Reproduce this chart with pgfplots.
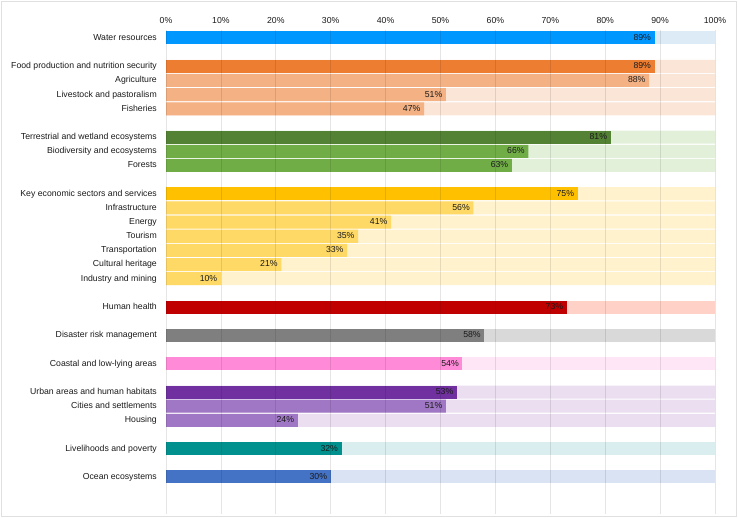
\documentclass[border=0pt]{standalone}
\usepackage{pgfplots}
\pgfplotsset{compat=1.18}
\usepackage{fontspec}
\setmainfont{Liberation Sans}
\definecolor{cWat}{HTML}{0097FF}\definecolor{bWat}{HTML}{DDEBF7}
\definecolor{cFood}{HTML}{ED7D31}\definecolor{sFood}{HTML}{F4B183}\definecolor{bFood}{HTML}{FBE5D6}
\definecolor{cTer}{HTML}{548235}\definecolor{sTer}{HTML}{70AD47}\definecolor{bTer}{HTML}{E2F0D9}
\definecolor{cKey}{HTML}{FFC000}\definecolor{sKey}{HTML}{FFD966}\definecolor{bKey}{HTML}{FFF2CC}
\definecolor{cHum}{HTML}{C00000}\definecolor{bHum}{HTML}{FFD1C7}
\definecolor{cDis}{HTML}{7F7F7F}\definecolor{bDis}{HTML}{D9D9D9}
\definecolor{cCoa}{HTML}{FF8AD8}\definecolor{bCoa}{HTML}{FFE6F7}
\definecolor{cUrb}{HTML}{7030A0}\definecolor{sUrb}{HTML}{A077C4}\definecolor{bUrb}{HTML}{EADEF0}
\definecolor{cLiv}{HTML}{00918F}\definecolor{bLiv}{HTML}{DAEEF0}
\definecolor{cOce}{HTML}{4472C4}\definecolor{bOce}{HTML}{DAE3F3}
\definecolor{txt}{HTML}{1A1A1A}
\begin{document}
\begin{tikzpicture}[x=1bp,y=1bp]
\path[use as bounding box] (0,0) rectangle (738,518);
\draw[black!12, line width=1bp] (1.5,1.5) rectangle (736.5,516.5);
\begin{axis}[
  at={(166bp,487.8bp)}, anchor=north west,
  scale only axis, width=549bp, height=483.6bp,
  xbar, bar width=0.92, bar shift=0pt,
  xmin=0, xmax=100, ymin=-0.55, ymax=33.6, y dir=reverse,
  axis line style={draw=none}, major tick length=0pt,
  xtick={0,10,...,100},
  xticklabels={0\%,10\%,20\%,30\%,40\%,50\%,60\%,70\%,80\%,90\%,100\%},
  xticklabel pos=upper,
  xticklabel style={inner sep=0pt, yshift=6.5bp},
  xmajorgrids, major grid style={black, opacity=0.1, line width=0.8bp},
  ytick={0,2,3,4,5,7,8,9,11,12,13,14,15,16,17,19,21,23,25,26,27,29,31},
  yticklabels={Water resources,Food production and nutrition security,Agriculture~,Livestock and pastoralism,Fisheries,Terrestrial and wetland ecosystems,Biodiversity and ecosystems,Forests,Key economic sectors and services,Infrastructure,Energy,Tourism,Transportation,Cultural heritage,Industry and mining,Human health,Disaster risk management,Coastal and low-lying areas,Urban areas and human habitats,Cities and settlements,Housing,Livelihoods and poverty,Ocean ecosystems},
  yticklabel style={inner sep=0pt, xshift=-9bp, text height=6.4bp, text depth=1.6bp},
  axis on top,
  font=\fontsize{8.7bp}{10bp}\selectfont,
  every tick label/.append style={text=txt},
  /pgf/number format/assume math mode=true,
  bg/.style={fill=#1, draw=none},
  fg/.style={fill=#1, draw=none, point meta=x,
    nodes near coords={\pgfmathprintnumber{\pgfplotspointmeta}\%},
    nodes near coords style={anchor=east, inner sep=0pt, xshift=-3.5bp, text=txt, text height=6.4bp, text depth=1.6bp, font=\fontsize{8.7bp}{10bp}\selectfont}},
]
% backgrounds
\addplot[bg=bWat] coordinates {(100,0)};
\addplot[bg=bFood] coordinates {(100,2) (100,3) (100,4) (100,5)};
\addplot[bg=bTer] coordinates {(100,7) (100,8) (100,9)};
\addplot[bg=bKey] coordinates {(100,11) (100,12) (100,13) (100,14) (100,15) (100,16) (100,17)};
\addplot[bg=bHum] coordinates {(100,19)};
\addplot[bg=bDis] coordinates {(100,21)};
\addplot[bg=bCoa] coordinates {(100,23)};
\addplot[bg=bUrb] coordinates {(100,25) (100,26) (100,27)};
\addplot[bg=bLiv] coordinates {(100,29)};
\addplot[bg=bOce] coordinates {(100,31)};
% values
\addplot[fg=cWat] coordinates {(89,0)};
\addplot[fg=cFood] coordinates {(89,2)};
\addplot[fg=sFood] coordinates {(88,3) (51,4) (47,5)};
\addplot[fg=cTer] coordinates {(81,7)};
\addplot[fg=sTer] coordinates {(66,8) (63,9)};
\addplot[fg=cKey] coordinates {(75,11)};
\addplot[fg=sKey] coordinates {(56,12) (41,13) (35,14) (33,15) (21,16) (10,17)};
\addplot[fg=cHum] coordinates {(73,19)};
\addplot[fg=cDis] coordinates {(58,21)};
\addplot[fg=cCoa] coordinates {(54,23)};
\addplot[fg=cUrb] coordinates {(53,25)};
\addplot[fg=sUrb] coordinates {(51,26) (24,27)};
\addplot[fg=cLiv] coordinates {(32,29)};
\addplot[fg=cOce] coordinates {(30,31)};
\end{axis}
\end{tikzpicture}
\end{document}
